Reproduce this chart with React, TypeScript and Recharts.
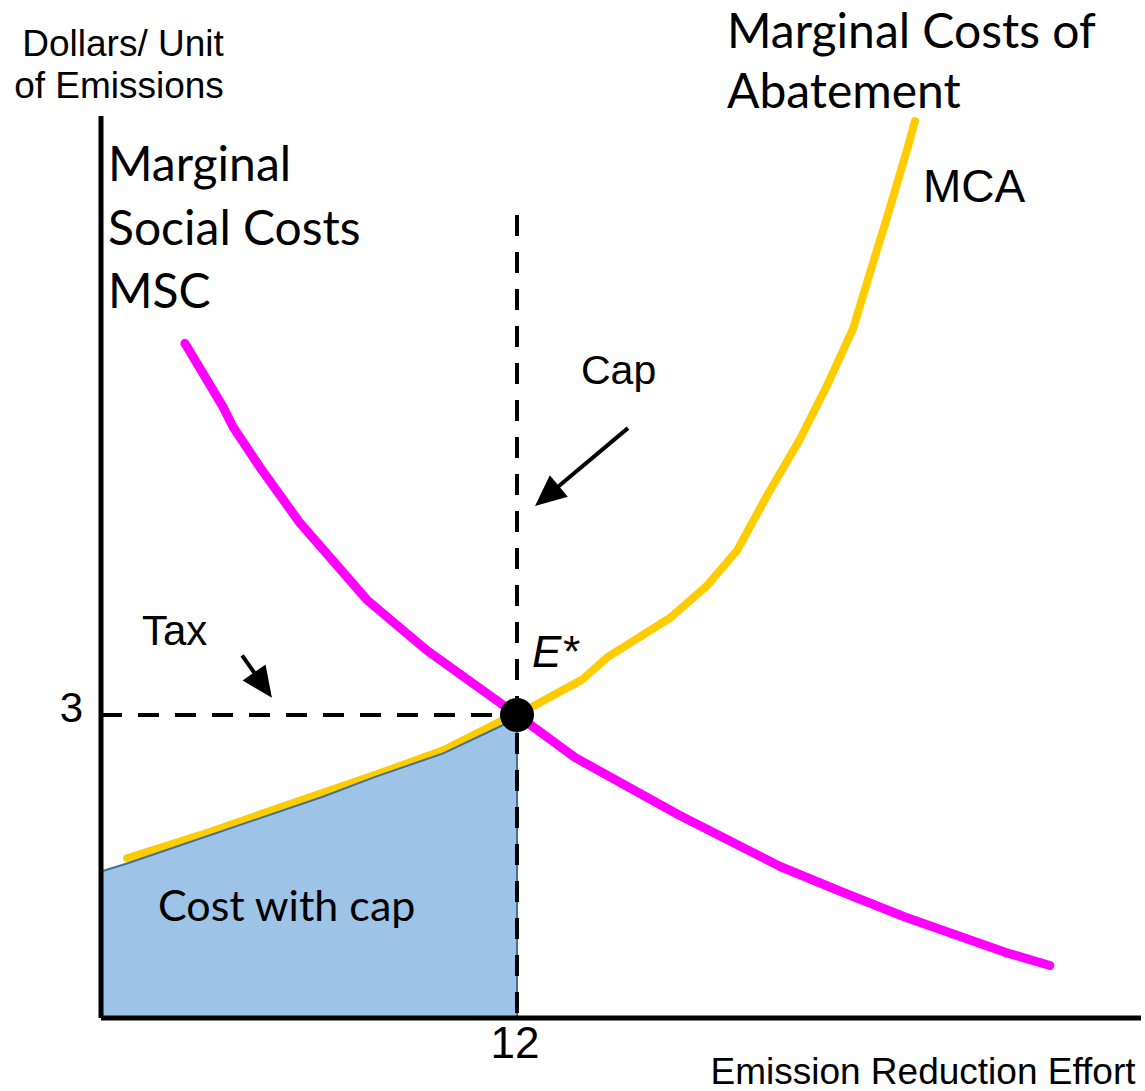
import React from 'react'
import {
  ComposedChart, Line, Area, XAxis, YAxis, ReferenceLine, ReferenceDot,
} from 'recharts'

// marginal social costs (falls with more reduction effort)
const mscX = [2.42, 3.52, 3.81, 4.59, 5.74, 7.67, 9.4, 12.0, 13.67, 16.67, 19.59, 21.43, 23.19, 26.08, 27.37]
const mscY = [6.68, 6.05, 5.85, 5.45, 4.9, 4.14, 3.64, 3.0, 2.58, 2.01, 1.5, 1.24, 1.0, 0.65, 0.52]

// marginal costs of abatement (rises with more reduction effort)
const mcaX = [0.75, 2.86, 6.4, 7.85, 9.87, 11.6, 12.0, 13.88, 14.6, 16.41, 17.48, 18.35, 19.21, 20.16, 20.94, 21.69, 22.38, 22.67, 23.28, 23.48]
const mcaY = [1.58, 1.81, 2.23, 2.4, 2.65, 2.95, 3.0, 3.35, 3.57, 3.96, 4.28, 4.63, 5.17, 5.73, 6.26, 6.82, 7.6, 7.92, 8.63, 8.88]

// shaded "cost with cap" region under MCA up to the cap
const costX = [0, 0.75, 6.4, 7.85, 9.87, 11.6, 12]
const costY = [1.45, 1.53, 2.19, 2.38, 2.62, 2.9, 2.93]

const capQty = 12
const taxPrice = 3
const capTop = 7.95
const xTicks = [12]
const yTicks = [3]

const capArrowFrom = { x: 15.2, y: 5.84 }
const capArrowTo = { x: 12.52, y: 5.07 }
const taxArrowFrom = { x: 4.07, y: 3.59 }
const taxArrowTo = { x: 4.93, y: 3.17 }

const zip = (xs: number[], ys: number[]) => xs.map((x, i) => ({ x, y: ys[i] }))
const mscData = zip(mscX, mscY)
const mcaData = zip(mcaX, mcaY)
const costData = zip(costX, costY)

const ARIAL = '"Liberation Sans", Arial, sans-serif'
const CALIBRI = 'Lato, "Open Sans", sans-serif'

function Arrow(p: any) {
  const { x1, y1, x2, y2 } = p
  const dx = x2 - x1
  const dy = y2 - y1
  const len = Math.hypot(dx, dy)
  const ux = dx / len
  const uy = dy / len
  const hl = 31
  const hw = 14
  const bx = x2 - ux * hl
  const by = y2 - uy * hl
  return (
    <g>
      <line x1={x1} y1={y1} x2={bx + ux * 3} y2={by + uy * 3} stroke="#000" strokeWidth={4} />
      <polygon
        points={`${x2},${y2} ${bx - uy * hw},${by + ux * hw} ${bx + uy * hw},${by - ux * hw}`}
        fill="#000"
      />
    </g>
  )
}

const YTick = ({ x, y, payload }: any) => (
  <text x={x - 18} y={y + 7} textAnchor="end" fontSize={42} fontFamily={ARIAL} fill="#000">
    {payload.value}
  </text>
)

const XTick = ({ x, y, payload }: any) => (
  <text x={x - 2} y={y + 40} textAnchor="middle" fontSize={44} fontFamily={ARIAL} fill="#000">
    {payload.value}
  </text>
)

export default function App() {
  return (
    <div style={{ position: 'absolute', left: 0, top: 0, width: 1145, height: 1091, background: '#fff' }}>
      <ComposedChart width={1145} height={1091} margin={{ top: 116, right: 4, bottom: 43, left: 41 }}>
        <XAxis
          type="number" dataKey="x" domain={[0, 30]} ticks={xTicks}
          height={30} tickLine={false} tickSize={0} tickMargin={0}
          axisLine={{ stroke: '#000', strokeWidth: 5 }} tick={<XTick />}
        />
        <YAxis
          type="number" domain={[0, 8.93]} ticks={yTicks}
          width={60} tickLine={false} tickSize={0} tickMargin={0}
          axisLine={{ stroke: '#000', strokeWidth: 5 }} tick={<YTick />}
        />
        {/* MCA drawn as an unfilled Area so the cost region can sit on top of it */}
        <Area
          data={mcaData} dataKey="y" type="linear"
          stroke="#FFCC00" strokeWidth={8} strokeLinecap="round" strokeLinejoin="round"
          fill="none" fillOpacity={0}
          dot={false} activeDot={false} isAnimationActive={false}
        />
        <Area
          data={costData} dataKey="y" type="linear"
          stroke="#41719C" strokeWidth={2} fill="#9DC3E6" fillOpacity={1}
          dot={false} activeDot={false} isAnimationActive={false}
        />
        <Line
          data={mscData} dataKey="y" type="linear"
          stroke="#FF00FF" strokeWidth={9} strokeLinecap="round" strokeLinejoin="round"
          dot={false} activeDot={false} isAnimationActive={false}
        />
        <ReferenceLine
          segment={[{ x: capQty, y: 0 }, { x: capQty, y: costY[costY.length - 1] }]}
          stroke="#41719C" strokeWidth={2}
        />
        <ReferenceLine
          segment={[{ x: 0, y: taxPrice }, { x: capQty, y: taxPrice }]}
          stroke="#000" strokeWidth={4} strokeDasharray="21 16"
        />
        <ReferenceLine
          segment={[{ x: capQty, y: capTop }, { x: capQty, y: 0 }]}
          stroke="#000" strokeWidth={4} strokeDasharray="21 16"
        />
        <ReferenceLine segment={[capArrowFrom, capArrowTo]} shape={Arrow} ifOverflow="visible" />
        <ReferenceLine segment={[taxArrowFrom, taxArrowTo]} shape={Arrow} ifOverflow="visible" />
        <ReferenceDot x={capQty} y={taxPrice} r={17} fill="#000" stroke="none" />
      </ComposedChart>

      <svg width={1145} height={1091} style={{ position: 'absolute', left: 0, top: 0, pointerEvents: 'none' }}>
        <g fontFamily={ARIAL} fill="#000">
          <text x={123} y={56} fontSize={37} textAnchor="middle">Dollars/ Unit</text>
          <text x={119} y={98} fontSize={37} textAnchor="middle">of Emissions</text>
          <text x={923} y={202} fontSize={46}>MCA</text>
          <text x={581} y={384} fontSize={41}>Cap</text>
          <text x={142} y={645} fontSize={42}>Tax</text>
          <text x={532} y={667} fontSize={44} fontStyle="italic">E*</text>
          <text x={923} y={1084} fontSize={37} textAnchor="middle">Emission Reduction Effort</text>
        </g>
        <g fontFamily={CALIBRI} fill="#000">
          <text x={108} y={181} fontSize={48}>Marginal</text>
          <text x={108} y={245} fontSize={48}>Social Costs</text>
          <text x={108} y={308} fontSize={48}>MSC</text>
          <text x={727} y={48} fontSize={48}>Marginal Costs of</text>
          <text x={727} y={108} fontSize={48}>Abatement</text>
          <text x={158} y={921} fontSize={43}>Cost with cap</text>
        </g>
      </svg>
    </div>
  )
}
